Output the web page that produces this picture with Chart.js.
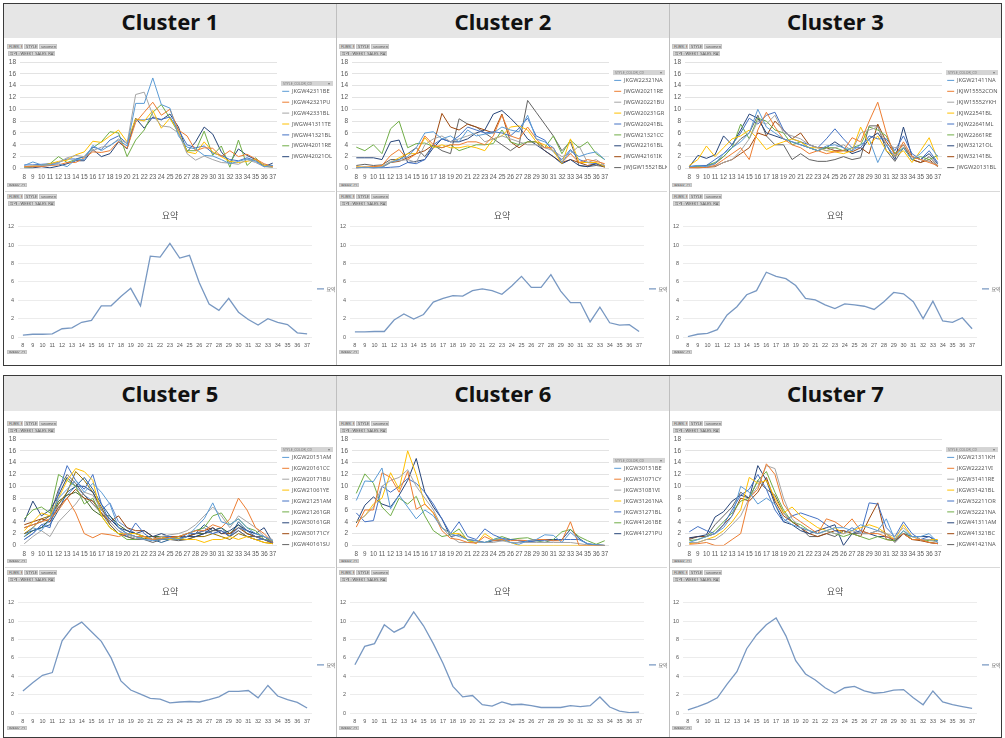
<!DOCTYPE html>
<html>
<head>
<meta charset="utf-8">
<script src="https://cdn.jsdelivr.net/npm/chart.js@4.4.1/dist/chart.umd.min.js"></script>
<style>
	body { margin: 0; width: 1005px; height: 738px; overflow: hidden; position: relative; background: #fff; font-family: 'Noto Sans', 'Noto Sans CJK KR', sans-serif; }
	.row { position: absolute; left: 3px; width: 997px; height: 361px; border: 1px solid #3a3a3a; background: #fff; }
	.head { position: absolute; background: #e6e6e6; text-align: center; font-weight: bold; font-size: 22px; color: #111; }
	.vline { position: absolute; width: 1px; background: #bfbfbf; }
	.sep { position: absolute; height: 1px; background: #d9d9d9; }
	canvas { position: absolute; }
	.btn { position: absolute; background: #d6d6d6; border: 1px solid #c6c6c6; box-sizing: border-box; font-size: 4px; line-height: 3px; color: #555; white-space: nowrap; overflow: hidden; padding: 0 1px; }
</style>
</head>
<body>
<script>
// x categories (week no.)
var weeks = ['8', '9', '10', '11', '12', '13', '14', '15', '16', '17', '18', '19', '20', '21', '22', '23', '24', '25', '26', '27', '28', '29', '30', '31', '32', '33', '34', '35', '36', '37'];

// ---------- Cluster 1 ----------
var c1Names = ['JKGW42311BE', 'JKGW42321PU', 'JKGW42331BL', 'JWGW41311TE', 'JWGW41321BL', 'JWGW42011RE', 'JWGW42021OL'];
var c1Values = [
	[0.5, 1.1, 0.6, 0.6, 0.8, 0.3, 1.5, 1.5, 3.9, 3.0, 3.9, 4.8, 3.8, 11.0, 11.0, 15.3, 10.8, 10.2, 5.5, 3.6, 3.3, 2.2, 2.1, 1.5, 0.8, 1.2, 1.6, 1.2, 0.3, 0.5],
	[0.3, 0.3, 0.3, 0.5, 0.6, 1.0, 1.0, 1.8, 2.8, 2.7, 3.0, 4.6, 3.4, 7.8, 9.5, 11.2, 9.0, 10.0, 6.5, 5.5, 3.0, 3.5, 3.4, 2.0, 3.0, 2.0, 2.4, 1.6, 0.8, 0.3],
	[0.2, 0.4, 0.5, 0.6, 1.0, 1.8, 2.2, 2.0, 3.0, 3.6, 3.8, 5.0, 4.2, 12.5, 12.9, 9.0, 7.2, 7.0, 6.0, 2.5, 1.4, 2.1, 1.5, 1.0, 0.9, 0.7, 1.5, 1.0, 0.3, 0.2],
	[0.3, 0.4, 0.5, 0.8, 1.2, 1.4, 2.3, 2.8, 4.6, 4.4, 5.5, 6.5, 4.5, 8.4, 8.0, 9.8, 6.8, 8.5, 6.2, 2.8, 2.5, 4.5, 2.8, 2.0, 1.2, 1.0, 1.2, 1.5, 0.5, 0.3],
	[0.6, 0.6, 0.7, 0.8, 1.0, 1.6, 1.6, 2.0, 3.6, 3.2, 4.8, 5.5, 4.2, 8.2, 8.2, 8.5, 8.3, 8.7, 6.5, 4.0, 3.5, 3.8, 2.6, 2.2, 1.5, 1.3, 1.8, 1.3, 0.6, 0.5],
	[0.2, 0.3, 0.5, 0.8, 2.0, 1.0, 1.5, 2.0, 3.5, 4.5, 6.2, 6.0, 2.0, 4.8, 6.5, 9.5, 10.8, 8.5, 6.0, 3.0, 3.0, 6.3, 2.2, 3.8, 0.2, 4.8, 0.5, 1.8, 0.4, 0.2],
	[0.1, 0.1, 0.3, 0.1, 0.4, 0.8, 1.3, 1.3, 3.2, 2.0, 2.5, 4.5, 3.3, 8.5, 6.8, 8.7, 8.2, 9.2, 7.0, 2.8, 4.5, 7.0, 5.8, 2.8, 1.0, 3.3, 2.2, 1.5, 0.3, 0.9]
];
var c1Summary = [0.2, 0.3, 0.3, 0.35, 0.9, 1.0, 1.6, 1.8, 3.4, 3.4, 4.4, 5.3, 3.4, 8.8, 8.7, 10.2, 8.6, 8.9, 5.9, 3.6, 2.9, 4.2, 2.7, 1.9, 1.3, 2.0, 1.6, 1.35, 0.45, 0.35];

// ---------- Cluster 2 ----------
var c2Names = ['JKGW22321NA', 'JWGW20211RE', 'JWGW20221BU', 'JWGW20231GR', 'JWGW20241BL', 'JWGW21321CC', 'JWGW22161BL', 'JWGW42161IK', 'JWJGW15521BLK'];
var c2Values = [
	[0.1, 0.2, 0.1, 0.2, 1.0, 1.5, 2.0, 3.5, 6.0, 6.2, 5.0, 5.5, 4.5, 6.5, 5.5, 5.8, 6.0, 7.0, 6.5, 6.2, 9.0, 5.0, 4.5, 3.5, 1.0, 3.0, 2.0, 2.5, 2.8, 1.5],
	[0.2, 0.2, 0.3, 0.5, 2.2, 3.2, 1.5, 2.5, 5.5, 4.0, 3.5, 4.0, 4.0, 4.5, 4.5, 4.0, 5.5, 9.0, 5.5, 5.0, 7.0, 5.0, 3.5, 3.5, 1.0, 2.5, 1.0, 1.5, 1.2, 0.8],
	[0.2, 0.1, 0.2, 0.3, 1.2, 1.3, 1.5, 1.0, 4.0, 5.0, 5.5, 4.5, 5.0, 5.5, 6.0, 4.5, 5.0, 5.5, 5.0, 4.5, 4.0, 4.0, 3.5, 3.0, 2.0, 2.5, 3.8, 1.0, 1.5, 0.5],
	[0.3, 0.2, 0.3, 0.4, 1.0, 1.8, 2.5, 2.5, 5.2, 3.5, 4.0, 3.5, 3.5, 3.8, 3.5, 3.0, 5.0, 5.5, 7.0, 7.2, 6.5, 4.5, 4.0, 3.0, 0.8, 5.0, 1.0, 1.0, 1.0, 0.3],
	[0.1, 0.2, 0.1, 0.1, 0.2, 0.3, 1.0, 0.8, 1.5, 4.0, 5.0, 4.5, 5.5, 7.0, 6.5, 6.0, 6.2, 6.0, 5.5, 6.8, 8.5, 5.5, 4.8, 2.8, 1.5, 3.2, 1.5, 1.0, 0.8, 0.5],
	[3.6, 3.0, 4.0, 2.5, 6.7, 8.0, 3.5, 4.2, 4.3, 3.7, 3.5, 4.0, 3.0, 3.5, 4.0, 4.0, 4.2, 6.5, 4.5, 4.0, 4.5, 4.5, 3.5, 5.5, 2.5, 4.8, 3.5, 4.5, 2.5, 1.5],
	[1.8, 1.8, 1.8, 1.5, 4.5, 4.8, 1.0, 1.2, 1.5, 3.5, 5.0, 4.5, 4.5, 5.0, 6.0, 6.5, 9.2, 9.8, 8.5, 7.0, 5.0, 4.0, 3.0, 2.0, 0.8, 1.5, 0.5, 0.3, 0.8, 0.3],
	[0.1, 0.2, 0.1, 0.2, 1.0, 1.2, 1.8, 2.5, 3.0, 4.0, 9.3, 7.0, 6.5, 7.5, 7.0, 6.5, 6.0, 9.2, 4.5, 3.5, 4.5, 4.5, 3.0, 2.0, 1.0, 1.5, 1.0, 0.5, 0.8, 0.2],
	[0.5, 0.7, 0.5, 0.6, 1.5, 1.5, 2.5, 3.5, 2.0, 4.0, 3.0, 2.5, 8.4, 7.5, 7.0, 6.0, 5.0, 4.0, 3.0, 4.0, 11.5, 9.5, 7.5, 5.5, 3.0, 4.5, 0.5, 0.3, 0.5, 0.3]
];
var c2Summary = [0.55, 0.55, 0.6, 0.6, 1.85, 2.5, 1.95, 2.45, 3.8, 4.2, 4.5, 4.45, 5.05, 5.25, 5.05, 4.65, 5.55, 6.6, 5.4, 5.4, 6.8, 5.0, 3.75, 3.75, 1.65, 3.25, 1.55, 1.3, 1.35, 0.6];

// ---------- Cluster 3 ----------
var c3Names = ['JKGW21411NA', 'JKJW15552CON', 'JKJW15552YKH', 'JKJW22541BL', 'JKJW22641ML', 'JKJW22661RE', 'JKJW32121OL', 'JKJW32141BL', 'JWGW20131BL'];
var c3Values = [
	[0.3, 0.5, 0.3, 0.8, 2.5, 3.5, 4.5, 6.0, 10.0, 7.0, 6.0, 5.0, 4.5, 4.0, 3.5, 3.0, 3.8, 4.0, 3.5, 3.0, 4.0, 5.0, 1.0, 4.0, 2.0, 3.5, 1.5, 2.5, 4.0, 2.0],
	[0.2, 0.1, 0.2, 0.5, 1.5, 2.5, 3.5, 1.5, 6.5, 9.5, 7.0, 5.0, 4.0, 3.5, 2.5, 3.0, 2.5, 2.8, 3.0, 5.2, 4.5, 8.0, 11.2, 6.0, 2.0, 4.5, 2.0, 1.5, 1.0, 0.5],
	[0.1, 0.2, 0.3, 0.4, 1.0, 1.5, 3.0, 5.0, 8.0, 7.5, 9.0, 6.0, 5.5, 5.0, 4.0, 3.5, 3.0, 3.5, 4.0, 3.0, 6.0, 6.5, 7.0, 4.0, 3.5, 4.0, 2.0, 1.5, 1.2, 0.5],
	[0.5, 1.5, 3.8, 2.0, 3.5, 5.0, 5.5, 6.5, 5.0, 3.2, 4.0, 4.5, 5.0, 4.5, 3.5, 3.5, 3.0, 2.8, 2.5, 3.0, 7.0, 4.0, 5.5, 3.0, 2.0, 3.0, 1.0, 3.0, 5.2, 1.5],
	[0.3, 0.5, 0.5, 1.5, 2.5, 4.0, 6.0, 8.5, 7.5, 9.0, 9.5, 6.5, 5.0, 4.5, 4.0, 3.5, 5.0, 6.7, 5.0, 3.5, 3.5, 5.5, 5.0, 5.0, 3.0, 5.5, 2.5, 1.5, 3.0, 1.0],
	[0.2, 0.3, 0.5, 1.0, 2.0, 3.5, 7.5, 5.0, 8.5, 8.0, 6.5, 6.0, 4.0, 4.5, 3.5, 3.0, 3.5, 3.5, 3.0, 3.5, 4.0, 7.0, 6.5, 5.5, 2.5, 3.5, 1.5, 2.0, 1.5, 2.2],
	[0.3, 2.2, 1.7, 2.3, 5.5, 4.0, 6.5, 9.2, 8.5, 6.0, 5.5, 5.0, 4.5, 4.0, 3.5, 3.0, 3.5, 4.5, 3.5, 2.5, 3.0, 5.0, 6.0, 4.0, 1.5, 7.0, 2.0, 1.5, 2.5, 0.8],
	[0.1, 0.1, 0.2, 0.3, 1.0, 1.5, 2.5, 3.5, 6.0, 5.5, 8.0, 6.5, 5.0, 6.0, 4.0, 3.5, 3.5, 3.0, 3.0, 2.8, 3.5, 2.5, 7.5, 4.5, 2.5, 4.0, 1.5, 1.0, 1.5, 0.3],
	[0.2, 0.3, 0.5, 0.8, 2.0, 3.5, 5.0, 6.0, 9.0, 5.5, 4.0, 4.0, 1.5, 2.5, 1.5, 1.2, 1.2, 1.5, 2.0, 1.5, 1.8, 7.2, 7.2, 3.0, 1.2, 3.5, 1.5, 1.0, 2.0, 0.5]
];
var c3Summary = [0.05, 0.3, 0.4, 0.8, 2.4, 3.3, 4.6, 5.05, 7.05, 6.6, 6.35, 5.6, 4.2, 4.05, 3.5, 3.1, 3.6, 3.5, 3.35, 3.0, 3.85, 4.85, 4.7, 3.85, 2.0, 3.9, 1.75, 1.6, 2.1, 0.9];

// ---------- Cluster 5 ----------
var c5Names = ['JKGW20151AM', 'JKGW20161CC', 'JKGW20171BU', 'JKGW21061YE', 'JKGW21251AM', 'JKGW21261GR', 'JKGW30161GR', 'JKGW30171CY', 'JKGW40161SU'];
var c5Values = [
	[1.5, 3.0, 2.5, 4.5, 8.0, 9.5, 11.0, 9.0, 10.5, 9.0, 7.0, 3.0, 2.0, 1.5, 1.0, 0.8, 1.0, 1.2, 1.0, 1.5, 3.0, 4.5, 7.2, 4.0, 3.5, 4.5, 3.0, 2.0, 1.5, 0.8],
	[3.0, 3.5, 4.0, 4.5, 6.0, 8.0, 5.5, 2.0, 1.3, 2.0, 1.8, 1.5, 2.0, 1.5, 1.5, 1.0, 1.2, 1.3, 1.5, 2.0, 2.5, 2.5, 3.5, 3.0, 4.5, 8.0, 6.0, 3.0, 2.0, 0.5],
	[0.3, 1.5, 2.5, 1.5, 4.0, 5.5, 7.0, 9.0, 8.5, 6.0, 4.0, 2.5, 1.8, 1.2, 1.0, 1.0, 1.5, 1.8, 2.0, 2.5, 3.5, 5.0, 6.5, 5.0, 3.0, 5.0, 4.0, 3.0, 1.5, 1.0],
	[2.5, 4.0, 5.5, 5.0, 8.0, 11.0, 13.0, 12.5, 11.0, 5.0, 3.0, 2.0, 2.0, 2.0, 1.5, 1.0, 1.5, 1.0, 1.2, 1.0, 1.0, 0.5, 1.0, 1.0, 1.5, 1.0, 1.5, 1.0, 0.5, 0.3],
	[1.0, 2.0, 3.5, 3.0, 9.0, 13.5, 11.0, 9.5, 12.0, 7.0, 4.0, 2.5, 1.5, 3.8, 2.0, 1.0, 1.5, 1.5, 1.0, 2.0, 2.0, 2.5, 2.0, 2.5, 1.5, 3.0, 2.5, 1.5, 1.0, 0.5],
	[4.5, 6.0, 6.5, 5.5, 12.0, 11.0, 10.0, 7.0, 8.0, 5.0, 3.0, 2.0, 1.0, 1.0, 1.5, 1.0, 1.2, 1.0, 1.5, 2.0, 2.5, 3.0, 5.0, 5.5, 3.5, 4.5, 3.0, 2.5, 1.0, 0.8],
	[4.0, 7.5, 5.0, 6.0, 8.5, 11.5, 10.0, 10.0, 9.0, 6.0, 4.5, 3.0, 2.5, 2.0, 2.5, 1.5, 2.0, 1.5, 1.0, 1.5, 1.5, 2.0, 3.0, 2.0, 2.5, 3.5, 2.5, 2.0, 3.0, 0.5],
	[3.5, 4.0, 4.5, 4.0, 6.5, 8.0, 9.5, 8.0, 7.5, 5.5, 4.0, 5.0, 3.0, 2.5, 2.5, 1.5, 1.0, 1.5, 1.5, 1.5, 2.0, 2.5, 3.0, 2.0, 2.0, 3.0, 2.0, 1.5, 1.0, 0.3],
	[3.0, 3.5, 4.0, 5.0, 9.5, 12.0, 10.5, 8.5, 7.0, 5.5, 3.5, 2.0, 1.5, 1.0, 1.0, 0.5, 1.0, 1.0, 0.8, 1.0, 1.5, 2.0, 2.5, 2.5, 1.5, 2.5, 1.5, 1.5, 1.5, 0.5],
	// series past the end of the visible legend
	[2.0, 3.0, 4.5, 5.0, 7.0, 9.0, 12.5, 11.0, 9.0, 6.5, 3.5, 2.0, 1.5, 1.0, 1.2, 1.0, 1.0, 1.5, 1.0, 1.0, 1.5, 1.5, 2.0, 1.5, 1.0, 2.0, 1.5, 1.0, 0.5, 0.3],
	[2.0, 2.5, 3.0, 3.5, 6.0, 9.0, 10.0, 11.5, 9.5, 7.0, 5.0, 3.0, 2.0, 1.5, 1.0, 1.0, 0.5, 1.0, 1.5, 1.5, 2.0, 3.5, 2.5, 3.0, 1.5, 4.0, 2.5, 2.0, 1.5, 0.5],
	[1.5, 2.5, 3.0, 4.5, 7.5, 8.5, 9.0, 8.0, 6.0, 5.0, 5.0, 3.5, 2.5, 2.0, 1.5, 1.5, 1.5, 1.0, 1.2, 1.5, 2.0, 2.0, 2.5, 3.0, 2.0, 3.5, 2.0, 1.5, 1.0, 0.5],
	[1.0, 2.0, 3.5, 4.0, 7.0, 8.5, 10.0, 8.5, 7.5, 6.0, 7.2, 4.0, 3.0, 2.0, 1.5, 1.0, 1.5, 1.0, 1.0, 2.0, 2.5, 3.0, 2.0, 2.5, 1.5, 2.5, 1.5, 1.0, 1.0, 0.5]
];
var c5Summary = [2.4, 3.3, 4.1, 4.4, 7.85, 9.25, 9.9, 8.85, 7.8, 6.0, 3.5, 2.5, 2.05, 1.6, 1.5, 1.1, 1.2, 1.25, 1.2, 1.45, 1.75, 2.35, 2.35, 2.45, 1.65, 3.0, 1.85, 1.45, 1.15, 0.55];

// ---------- Cluster 6 ----------
var c6Names = ['JKGW30151BE', 'JKGW31071CY', 'JKGW31081VI', 'JKGW31261NA', 'JKGW31271BL', 'JKGW41261BE', 'JKGW41271PU'];
var c6Values = [
	[7.6, 10.9, 10.8, 13.1, 6.2, 8.5, 6.5, 4.5, 6.0, 5.0, 3.0, 2.0, 1.5, 1.0, 0.8, 0.5, 1.0, 1.2, 0.5, 0.2, 0.8, 1.0, 1.8, 1.7, 0.5, 2.2, 1.0, 0.3, 0.1, 0.0],
	[3.1, 6.0, 6.0, 12.3, 11.5, 9.0, 12.5, 6.1, 7.0, 5.5, 2.5, 1.2, 1.0, 0.5, 0.4, 1.5, 0.8, 1.0, 0.8, 0.9, 0.8, 1.0, 1.0, 0.8, 0.8, 4.0, 0.0, 0.0, 0.0, 0.0],
	[4.0, 5.0, 6.5, 10.0, 11.0, 11.5, 12.8, 10.0, 8.0, 6.0, 3.0, 1.5, 0.5, 0.5, 0.5, 0.5, 0.5, 0.8, 0.5, 0.5, 0.5, 0.5, 0.5, 0.5, 0.5, 0.5, 0.3, 0.1, 0.0, 0.0],
	[4.0, 5.0, 7.0, 8.0, 12.3, 9.5, 16.0, 12.0, 7.0, 5.5, 3.0, 2.0, 2.0, 1.0, 0.3, 2.0, 1.0, 1.0, 0.5, 0.0, 0.0, 0.0, 0.0, 0.0, 0.0, 0.0, 0.0, 0.0, 0.0, 0.0],
	[5.5, 4.0, 4.2, 10.0, 9.0, 10.0, 11.3, 10.5, 9.0, 7.0, 4.5, 2.0, 4.0, 1.5, 1.0, 2.8, 1.8, 1.2, 1.0, 0.8, 0.6, 0.8, 0.8, 0.8, 1.0, 1.0, 1.0, 0.3, 0.1, 0.0],
	[8.8, 12.1, 10.5, 6.5, 5.0, 8.0, 7.0, 8.3, 5.0, 2.5, 1.5, 1.8, 2.8, 0.8, 0.5, 0.5, 1.0, 1.5, 1.0, 1.2, 1.3, 0.8, 0.5, 1.0, 2.3, 2.7, 1.5, 0.8, 0.2, 0.8],
	[3.8, 6.8, 8.2, 7.0, 6.5, 8.5, 11.0, 14.7, 9.0, 6.5, 4.5, 1.5, 1.8, 1.0, 0.8, 0.5, 0.8, 0.8, 1.0, 0.8, 0.6, 0.8, 1.0, 1.0, 1.0, 2.7, 1.2, 0.2, 0.1, 0.0]
];
var c6Summary = [5.25, 7.25, 7.55, 9.6, 8.8, 9.35, 11.0, 9.5, 7.55, 5.4, 2.9, 1.75, 1.9, 0.9, 0.75, 1.2, 0.9, 0.95, 0.8, 0.6, 0.6, 0.6, 0.8, 0.7, 0.8, 1.75, 0.65, 0.2, 0.05, 0.1];

// ---------- Cluster 7 ----------
var c7Names = ['JKGW21311KH', 'JKGW22221VI', 'JKGW31411RE', 'JKGW31421BL', 'JKGW32211OR', 'JKGW32221NA', 'JKGW41311AM', 'JKGW41321BC', 'JKGW41421NA'];
var c7Values = [
	[0.5, 1.0, 1.5, 2.0, 3.0, 5.0, 10.0, 9.0, 7.0, 8.0, 7.0, 4.5, 3.5, 3.0, 2.5, 2.0, 2.5, 3.0, 3.0, 2.5, 3.5, 3.0, 2.5, 4.5, 1.0, 2.5, 1.5, 1.5, 2.0, 0.5],
	[0.2, 0.3, 0.5, 0.0, 0.0, 1.0, 2.0, 8.0, 9.5, 13.8, 12.0, 7.0, 5.0, 4.0, 3.0, 2.0, 4.5, 4.0, 3.0, 4.5, 2.5, 2.0, 2.0, 1.5, 1.0, 2.0, 1.0, 1.0, 0.5, 0.3],
	[0.5, 0.5, 1.0, 1.0, 2.0, 3.5, 5.0, 8.0, 10.0, 13.5, 13.0, 8.0, 4.5, 3.0, 2.5, 2.0, 2.5, 2.0, 2.0, 2.5, 2.0, 2.0, 2.5, 2.0, 1.5, 3.0, 1.5, 1.0, 1.0, 0.5],
	[0.3, 0.5, 1.0, 1.5, 2.5, 4.0, 6.0, 11.5, 10.5, 11.0, 8.0, 5.5, 6.5, 5.0, 4.0, 3.0, 2.5, 3.0, 2.0, 2.5, 3.0, 3.5, 3.0, 2.0, 1.0, 3.5, 1.5, 1.0, 1.0, 1.0],
	[2.3, 3.2, 2.5, 2.0, 3.5, 6.0, 8.5, 9.5, 12.0, 9.5, 6.0, 4.0, 5.0, 5.5, 5.0, 4.5, 3.5, 2.5, 2.0, 3.0, 2.0, 7.2, 7.0, 3.0, 1.5, 4.0, 2.0, 1.0, 1.5, 0.8],
	[0.8, 1.0, 1.5, 2.5, 4.0, 5.5, 7.5, 8.0, 11.0, 12.5, 9.0, 6.0, 4.0, 3.5, 2.5, 2.0, 2.5, 2.0, 1.5, 2.0, 1.5, 1.0, 1.5, 1.0, 0.8, 2.5, 1.0, 1.0, 0.8, 0.8],
	[1.3, 1.5, 1.8, 4.8, 5.7, 7.5, 8.5, 8.0, 13.5, 11.0, 7.0, 4.0, 3.5, 2.5, 2.0, 2.5, 3.0, 3.5, 0.0, 2.0, 2.5, 2.0, 1.5, 1.5, 0.8, 2.0, 1.5, 1.5, 1.5, 0.5],
	[1.2, 1.5, 1.5, 2.0, 3.5, 5.0, 8.0, 7.5, 9.0, 11.5, 7.5, 5.0, 4.0, 3.0, 2.0, 1.5, 2.0, 2.5, 2.5, 2.0, 1.5, 4.5, 7.2, 1.0, 0.8, 2.0, 1.0, 0.8, 0.5, 0.3],
	[1.0, 1.5, 1.5, 3.5, 5.0, 6.5, 9.0, 8.0, 11.0, 9.5, 8.5, 5.5, 4.0, 3.0, 1.5, 1.5, 2.0, 1.5, 2.5, 2.0, 2.0, 2.0, 2.5, 2.0, 0.5, 2.0, 1.0, 1.0, 0.5, 0.3]
];
var c7Summary = [0.35, 0.7, 1.1, 1.65, 3.15, 4.5, 7.0, 8.5, 9.6, 10.35, 8.4, 5.7, 4.25, 3.6, 2.75, 2.15, 2.75, 2.9, 2.4, 2.15, 2.25, 2.5, 2.55, 1.65, 0.9, 2.4, 1.2, 0.9, 0.7, 0.5];

var topTicks = { min: 0, max: 18, step: 2 };
var summaryTicks = { min: 0, max: 12, step: 2 };

// excel default palette
var excelColors = ['#5B9BD5', '#ED7D31', '#A5A5A5', '#FFC000', '#4472C4', '#70AD47', '#264478', '#9E480E', '#636363', '#997300', '#255E91', '#43682B', '#698ED0'];
var summaryColor = '#7898c2';

Chart.defaults.font.family = "'Liberation Sans', 'Noto Sans CJK KR', sans-serif";
Chart.defaults.color = '#595959';

var clusters = [
	{ title: 'Cluster 1', names: c1Names, values: c1Values, summary: c1Summary, col: 0, row: 0 },
	{ title: 'Cluster 2', names: c2Names, values: c2Values, summary: c2Summary, col: 1, row: 0 },
	{ title: 'Cluster 3', names: c3Names, values: c3Values, summary: c3Summary, col: 2, row: 0 },
	{ title: 'Cluster 5', names: c5Names, values: c5Values, summary: c5Summary, col: 0, row: 1 },
	{ title: 'Cluster 6', names: c6Names, values: c6Values, summary: c6Summary, col: 1, row: 1 },
	{ title: 'Cluster 7', names: c7Names, values: c7Values, summary: c7Summary, col: 2, row: 1 }
];

var colLeft = [5, 337, 670];
var headLeft = [4, 337, 670];
var headWidth = [332, 332, 331];
var rowBox = [3, 375];
var headTop = [4, 376];
var headHeight = [34, 35];
var topCanvasTop = [40, 417];
var sumCanvasTop = [188, 564];

// gray header bar on top of the legend (pivot field button)
var legendHeader = {
	id: 'legendHeader',
	afterDraw: function (chart) {
		var lg = chart.legend;
		if (!lg || !lg.legendHitBoxes || !lg.legendHitBoxes.length) return;
		var h = lg.legendHitBoxes[0];
		var ctx = chart.ctx;
		var x = lg.left + 4, w = lg.right - x - 2, y = h.top - 7.5;
		ctx.save();
		ctx.fillStyle = '#d4d4d4';
		ctx.fillRect(x, y, w, 5);
		ctx.fillStyle = '#7a7a7a';
		ctx.font = "3.5px 'Noto Sans'";
		ctx.textBaseline = 'middle';
		ctx.fillText('STYLE_COLOR_CD', x + 2, y + 2.6);
		ctx.fillText('▾', x + w - 5, y + 2.6);
		ctx.restore();
	}
};

function addDiv(cls, left, top, width, height, text) {
	var d = document.createElement('div');
	d.className = cls;
	d.style.left = left + 'px';
	d.style.top = top + 'px';
	d.style.width = width + 'px';
	d.style.height = height + 'px';
	if (text) d.textContent = text;
	document.body.appendChild(d);
	return d;
}

function addCanvas(left, top, width, height) {
	var c = document.createElement('canvas');
	c.width = width;
	c.height = height;
	c.style.left = left + 'px';
	c.style.top = top + 'px';
	document.body.appendChild(c);
	return c;
}

function fieldButtons(left, top) {
	addDiv('btn', left + 2, top + 4, 16, 5, 'FLWK_RI ↗');
	addDiv('btn', left + 19, top + 4, 14, 5, 'STYLE ▾');
	addDiv('btn', left + 34, top + 4, 18, 5, 'segment ↗');
	addDiv('btn', left + 3, top + 11, 47, 5, '합계 : WEEK1_SALES_RATE_ADJUST');
}

function drawTopChart(canvas, cl) {
	var datasets = cl.values.map(function (v, i) {
		return {
			label: cl.names[i] || ('#' + (i + 1)),
			data: v,
			borderColor: excelColors[i],
			backgroundColor: excelColors[i],
			borderWidth: 1,
			pointRadius: 0,
			tension: 0
		};
	});
	new Chart(canvas, {
		type: 'line',
		data: { labels: weeks, datasets: datasets },
		options: {
			responsive: false,
			animation: false,
			layout: { padding: { top: 22, bottom: 0, left: 0, right: 0 } },
			scales: {
				x: {
					offset: true,
					grid: { display: false, drawTicks: false },
					border: { display: false },
					ticks: { autoSkip: false, maxRotation: 0, padding: 5, font: { size: 6.3 } }
				},
				y: {
					min: topTicks.min,
					max: topTicks.max,
					border: { display: false },
					grid: { color: '#e3e3e3', drawTicks: false },
					ticks: { stepSize: topTicks.step, autoSkip: false, padding: 4, font: { size: 6.5 } },
					afterFit: function (s) { s.width = 15; }
				}
			},
			plugins: {
				legend: {
					position: 'right',
					maxWidth: 58,
					labels: {
						usePointStyle: true,
						pointStyle: 'line',
						pointStyleWidth: 7,
						font: { family: "'Noto Sans', sans-serif", size: 5.7 },
						padding: 5.2,
						filter: function (item) { return item.datasetIndex < cl.names.length; }
					}
				},
				tooltip: { enabled: false }
			}
		},
		plugins: [legendHeader]
	});
}

function drawSummaryChart(canvas, cl) {
	new Chart(canvas, {
		type: 'line',
		data: {
			labels: weeks,
			datasets: [{
				label: '요약',
				data: cl.summary,
				borderColor: summaryColor,
				backgroundColor: summaryColor,
				borderWidth: 1.3,
				pointRadius: 0,
				tension: 0
			}]
		},
		options: {
			responsive: false,
			animation: false,
			layout: { padding: { top: 0, bottom: 6.4, left: 0, right: 0 } },
			scales: {
				x: {
					offset: true,
					grid: { display: false, drawTicks: false },
					border: { display: false },
					ticks: { autoSkip: false, maxRotation: 0, padding: 5, font: { size: 5.5 } }
				},
				y: {
					min: summaryTicks.min,
					max: summaryTicks.max,
					border: { display: false },
					grid: { color: '#ececec', drawTicks: false },
					ticks: { stepSize: summaryTicks.step, autoSkip: false, padding: 4, font: { size: 5.5 } },
					afterFit: function (s) { s.width = 13; }
				}
			},
			plugins: {
				title: { display: true, text: '요약', font: { family: "'Noto Sans CJK KR', sans-serif", size: 9, weight: 'normal' }, padding: { top: 22, bottom: 6 } },
				legend: {
					position: 'right',
					maxWidth: 23,
					// empty legend title only pushes the single entry down to the middle of the plot
					title: { display: true, text: ' ', font: { size: 5 }, padding: { top: 0, bottom: 30 } },
					labels: { usePointStyle: true, pointStyle: 'line', pointStyleWidth: 7, font: { family: "'Noto Sans CJK KR', sans-serif", size: 5 }, padding: 5 }
				},
				tooltip: { enabled: false }
			}
		}
	});
}

// row frames
rowBox.forEach(function (t) { addDiv('row', 3, t, 997, 361); });

clusters.forEach(function (cl) {
	var r = cl.row, c = cl.col;
	var head = addDiv('head', headLeft[c], headTop[r], headWidth[c], headHeight[r], cl.title);
	head.style.lineHeight = headHeight[r] + 'px';

	var left = colLeft[c];
	var topC = addCanvas(left, topCanvasTop[r], 330, 146);
	drawTopChart(topC, cl);
	fieldButtons(left, topCanvasTop[r]);

	addDiv('sep', left, sumCanvasTop[r] + 3, 330, 1);
	var sumC = addCanvas(left, sumCanvasTop[r], 330, 172);
	drawSummaryChart(sumC, cl);
	addDiv('btn', left + 2, sumCanvasTop[r] - 5, 20, 4, 'WEEK_CL ▾');
	fieldButtons(left, sumCanvasTop[r] + 2);
	addDiv('btn', left + 2, sumCanvasTop[r] + 162, 20, 4, 'WEEK_CL ▾');
});

// column dividers
[0, 1].forEach(function (r) {
	addDiv('vline', 336, rowBox[r] + 1, 1, 361);
	addDiv('vline', 669, rowBox[r] + 1, 1, 361);
});
</script>
</body>
</html>
